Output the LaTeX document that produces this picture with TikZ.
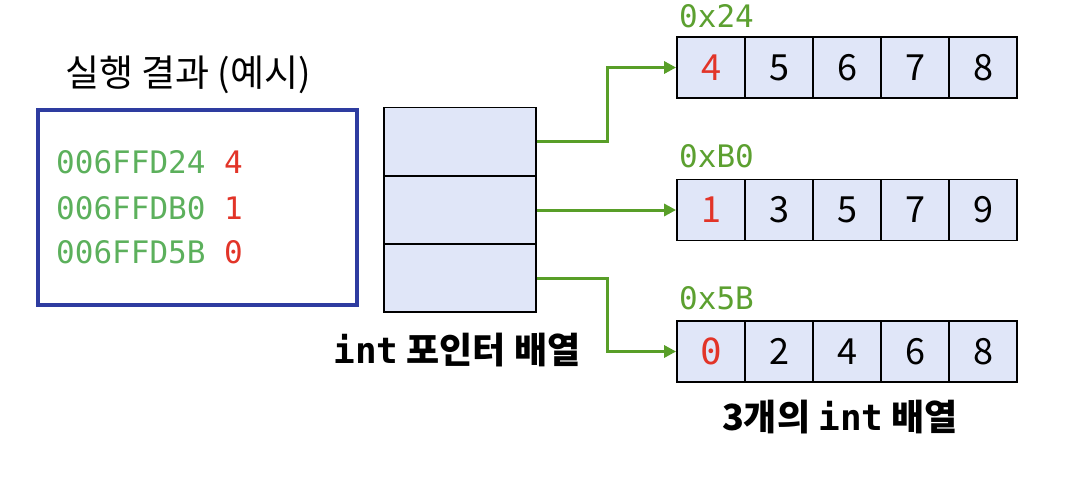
\documentclass[tikz,border=0pt]{standalone}
\usepackage{fontspec}
\usepackage{xcolor}
\usepackage{tikz}
\usetikzlibrary{arrows.meta}
\usetikzlibrary{positioning, calc}
\setmainfont{Noto Sans CJK KR}
\newfontfamily\krfont{Noto Sans CJK KR}
\newfontfamily\codefont{DejaVu Sans Mono}
\definecolor{boxblue}{RGB}{46, 60, 160}
\definecolor{cellfill}{RGB}{224, 230, 248}
\definecolor{addrgreen}{RGB}{92, 176, 92}
\definecolor{hexgreen}{RGB}{92, 160, 48}
\definecolor{arrowgreen}{RGB}{88, 158, 40}
\definecolor{valred}{RGB}{226, 52, 40}

\tikzset{
    cell/.style={draw=black, line width=1.8pt, fill=cellfill, minimum width=68pt, minimum height=61pt, inner sep=0pt, font=\krfont\fontsize{36}{36}\selectfont},
    ptrcell/.style={draw=black, line width=1.8pt, fill=cellfill, minimum width=152pt, minimum height=68pt, inner sep=0pt},
    link/.style={draw=arrowgreen, line width=3pt, -{Triangle[length=12pt, width=12pt]}},
    hexlabel/.style={font=\codefont\fontsize{31}{31}\selectfont, text=hexgreen, anchor=west, inner sep=0pt},
    caption/.style={font=\krfont\bfseries\fontsize{36}{36}\selectfont, inner sep=0pt}
}

\begin{document}
\begin{tikzpicture}[x=1pt, y=-1pt]
        \useasboundingbox (0, 0) rectangle (1084, 493);
        \node[font=\krfont\fontsize{37}{37}\selectfont, inner sep=0pt] (title) at (188, 75) {실행 결과 (예시)};
        \node[draw=boxblue, line width=4pt, minimum width=319pt, minimum height=195pt, inner sep=0pt] (output) at (197.5, 207.5) {};
        \node[font=\codefont\fontsize{31}{31}\selectfont, anchor=west, inner sep=0pt] (line1) at (56, 162) {\textcolor{addrgreen}{006FFD24} \textcolor{valred}{4}};
        \node[font=\codefont\fontsize{31}{31}\selectfont, anchor=west, inner sep=0pt] (line2) at (56, 208) {\textcolor{addrgreen}{006FFDB0} \textcolor{valred}{1}};
        \node[font=\codefont\fontsize{31}{31}\selectfont, anchor=west, inner sep=0pt] (line3) at (56, 252) {\textcolor{addrgreen}{006FFD5B} \textcolor{valred}{0}};
        \foreach \i/\y in {1/141.5, 2/210, 3/278} \node[ptrcell] (p\i) at (460, \y) {};
        \node[caption] (ptrname) at (457, 350) {{\codefont\bfseries int} 포인터 배열};
        \foreach \v [count=\j] in {{\textcolor{valred}{4}}, 5, 6, 7, 8} \node[cell] (a1c\j) at (643+68*\j, 67.5) {\v};
        \foreach \v [count=\j] in {{\textcolor{valred}{1}}, 3, 5, 7, 9} \node[cell] (a2c\j) at (643+68*\j, 210) {\v};
        \foreach \v [count=\j] in {{\textcolor{valred}{\codefont 0}}, 2, 4, 6, 8} \node[cell] (a3c\j) at (643+68*\j, 351.5) {\v};
        \node[hexlabel] (hex1) at (679, 16) {0x24};
        \node[hexlabel] (hex2) at (679, 156) {0xB0};
        \node[hexlabel] (hex3) at (679, 298) {0x5B};
        \node[caption] (arrname) at (840, 417) {3개의 {\codefont\bfseries int} 배열};
        \draw[link] (p1.east) -- ++(71, 0) |- (a1c1.west);
        \draw[link] (p2.east) -- (a2c1.west);
        \draw[link] (p3.east) -- ++(71, 0) |- (a3c1.west);
    \end{tikzpicture}
\end{document}
